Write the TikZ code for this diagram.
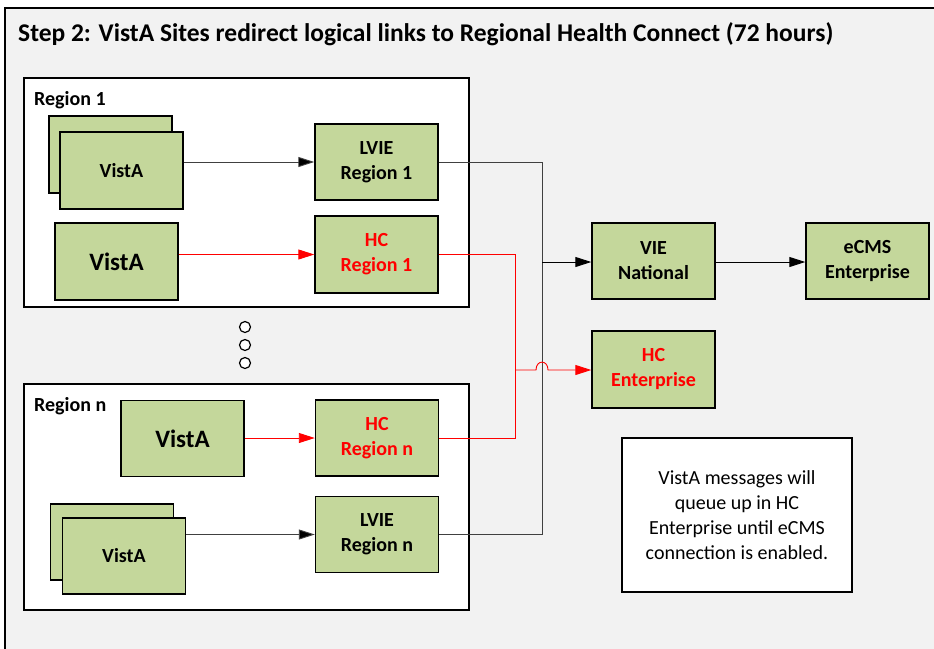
\documentclass[tikz,border=0pt]{standalone}
\usepackage{fontspec}
\setmainfont{Carlito}
\usetikzlibrary{arrows.meta}
\definecolor{bggray}{HTML}{F2F2F2}
\definecolor{boxgreen}{HTML}{C4D79B}
\definecolor{linegray}{HTML}{404040}
\definecolor{hcred}{HTML}{FF0000}
\tikzset{
  gbox/.style={draw=black, line width=1.4pt, fill=boxgreen, minimum width=123pt, minimum height=76pt, inner sep=0pt, align=center, font=\fontsize{20}{25}\selectfont\bfseries},
  bigtext/.style={font=\fontsize{25}{30}\selectfont\bfseries},
  redtext/.style={text=hcred},
  regionbox/.style={draw=black, line width=1.2pt, fill=white, minimum width=445pt, inner sep=0pt},
  blackconn/.style={draw=linegray, line width=0.9pt},
  redconn/.style={draw=hcred, line width=0.9pt},
  blackarr/.style={-{Triangle[length=16pt,width=10pt,fill=black]}},
  redarr/.style={-{Triangle[length=16pt,width=10pt]}},
  lbl/.style={font=\fontsize{20}{24}\selectfont\bfseries, anchor=west, inner sep=0pt},
  dot/.style={draw=black, line width=1.2pt, fill=white, circle, minimum size=11pt, inner sep=0pt}
}
\begin{document}
\begin{tikzpicture}[x=1pt,y=-1pt]
\useasboundingbox (0,0) rectangle (934,648);
% background frame
\fill[bggray] (5,8) rectangle (940,660);
\draw[black, line width=1.2pt] (940,8) -- (5,8) -- (5,660);
\node[anchor=west, inner sep=0pt, font=\fontsize{25.5}{30}\selectfont\bfseries] (title) at (18,34) {Step 2: VistA Sites redirect logical links to Regional Health Connect (72 hours)};

% Region 1
\node[regionbox, minimum height=229pt] (reg1) at (246.5,192.5) {};
\node[lbl] (reg1lbl) at (34,100) {Region 1};
\node[gbox, minimum height=77pt] (v1b) at (110.5,154.5) {};
\node[gbox, minimum height=77pt] (v1f) at (121.5,170.5) {VistA};
\node[gbox, bigtext, minimum height=77pt] (v1s) at (116.5,261.5) {VistA};
\node[gbox] (lvie1) at (376.5,162) {LVIE\\Region 1};
\node[gbox, redtext, minimum height=77pt] (hc1) at (376.5,254.5) {HC\\Region 1};

% dots
\node[dot] (d1) at (245,327) {};
\node[dot] (d2) at (245,345) {};
\node[dot] (d3) at (245,363) {};

% Region n
\node[regionbox, minimum height=226pt] (regn) at (246.5,497) {};
\node[lbl] (regnlbl) at (34,406) {Region n};
\node[gbox, bigtext] (vn) at (182.5,438.5) {VistA};
\node[gbox, redtext] (hcn) at (377,438) {HC\\Region n};
\node[gbox] (vnb) at (112,542) {};
\node[gbox] (vnf) at (124,556) {VistA};
\node[gbox] (lvien) at (377,534.5) {LVIE\\Region n};

% right side
\node[gbox] (vie) at (653.5,261) {VIE\\National};
\node[gbox] (ecms) at (867.5,261) {eCMS\\Enterprise};
\node[gbox, redtext, minimum height=77pt] (hcent) at (653.5,369.5) {HC\\Enterprise};
\node[draw=black, line width=1.2pt, fill=white, minimum width=230pt, minimum height=154pt, align=center, font=\fontsize{20}{25}\selectfont] (note) at (737,515) {VistA messages will\\queue up in HC\\Enterprise until eCMS\\connection is enabled.};

% junction coordinates
\coordinate (jb) at (542,262);
\coordinate (jr) at (515,370);

% black connectors
\draw[blackconn, blackarr] (v1f.east |- lvie1) -- (lvie1.west);
\draw[blackconn, blackarr] (vnf.east |- lvien) -- (lvien.west);
\draw[blackconn] (lvie1.east) -- (lvie1.east -| jb) -- (lvien.east -| jb) -- (lvien.east);
\draw[blackconn, blackarr, draw=black] (jb) -- (vie.west |- jb);
\draw[blackconn, blackarr, draw=black] (vie.east |- jb) -- (ecms.west |- jb);

% red connectors
\draw[redconn, redarr] (v1s.east |- hc1) -- (hc1.west);
\draw[redconn, redarr] (vn.east |- hcn) -- (hcn.west);
\draw[redconn] (hc1.east) -- (hc1.east -| jr) -- (hcn.east -| jr) -- (hcn.east);
\draw[redconn, redarr] (jr) -- (536,370) .. controls (536,359.5) and (548,359.5) .. (548,370) -- (hcent.west |- jr);
\end{tikzpicture}
\end{document}
